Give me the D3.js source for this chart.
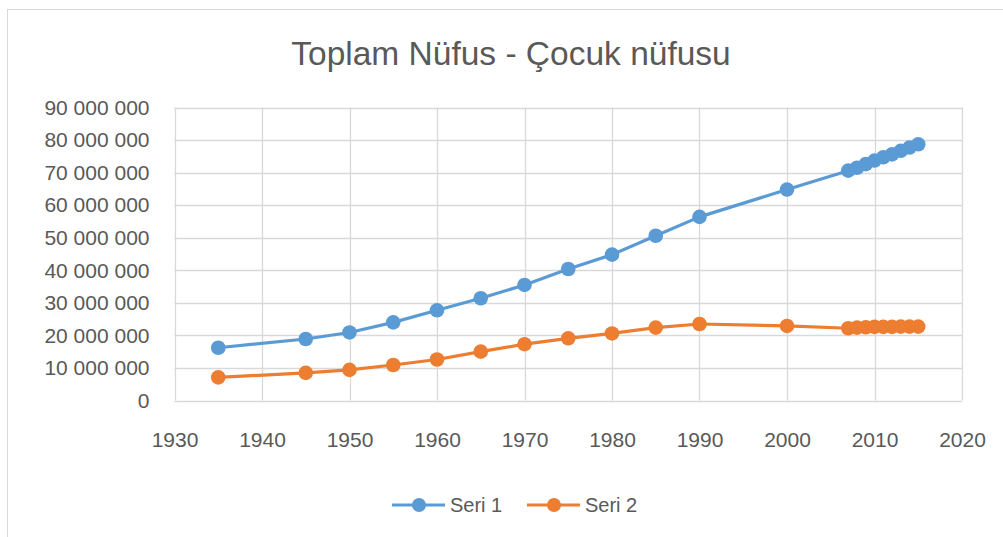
<!DOCTYPE html>
<html lang="tr">
<head>
    <meta charset="UTF-8">
    <title>Toplam Nüfus - Çocuk nüfusu</title>
    <script src="https://d3js.org/d3.v7.min.js"></script>
    <style>
        body {
            margin: 0;
            background: #fff;
            font-family: "Liberation Sans", Arial, sans-serif;
        }
        text { fill: #595959; }
    </style>
</head>
<body>
    <svg id="chart"></svg>

    <script>
        const width = 1003, height = 537;

        // data
        const years  = [1935, 1945, 1950, 1955, 1960, 1965, 1970, 1975, 1980, 1985, 1990, 2000,
                        2007, 2008, 2009, 2010, 2011, 2012, 2013, 2014, 2015];
        const seri1  = [16.2, 18.9, 20.9, 24.0, 27.7, 31.4, 35.5, 40.4, 44.8, 50.6, 56.4, 64.8,
                        70.6, 71.5, 72.6, 73.7, 74.7, 75.6, 76.7, 77.7, 78.7].map(v => v * 1e6);
        const seri2  = [7.1, 8.5, 9.4, 10.9, 12.6, 15.0, 17.3, 19.1, 20.6, 22.4, 23.5, 22.9,
                        22.2, 22.4, 22.5, 22.6, 22.6, 22.6, 22.7, 22.7, 22.7].map(v => v * 1e6);
        const seriesNames = ["Seri 1", "Seri 2"];
        const colors = ["#5B9BD5", "#ED7D31"];
        const xTicks = d3.range(1930, 2021, 10);
        const yTicks = d3.range(0, 90000001, 10000000);

        const svg = d3.select("#chart").attr("width", width).attr("height", height);

        // chart frame
        svg.append("rect")
            .attr("x", 7.5).attr("y", 9.5)
            .attr("width", 1010).attr("height", 600)
            .attr("fill", "none").attr("stroke", "#d9d9d9");

        const x = d3.scaleLinear().domain([1930, 2020]).range([174.5, 962]);
        const y = d3.scaleLinear().domain([0, 90000000]).range([400.5, 107.5]);

        const fmt = d3.formatLocale({ thousands: " ", grouping: [3], decimal: ",", currency: ["", ""] }).format(",");

        // gridlines
        svg.append("g").selectAll("line").data(yTicks).join("line")
            .attr("x1", x(1930)).attr("x2", x(2020))
            .attr("y1", d => Math.round(y(d)) + 0.5).attr("y2", d => Math.round(y(d)) + 0.5)
            .attr("stroke", "#d9d9d9").attr("stroke-width", 1.3);
        svg.append("g").selectAll("line").data(xTicks).join("line")
            .attr("x1", d => Math.round(x(d)) + 0.5).attr("x2", d => Math.round(x(d)) + 0.5)
            .attr("y1", y(0)).attr("y2", y(90000000))
            .attr("stroke", "#d9d9d9").attr("stroke-width", 1.3);

        // axes labels
        const yAxis = d3.axisLeft(y).tickValues(yTicks).tickFormat(fmt).tickSize(0).tickPadding(25);
        svg.append("g").attr("transform", `translate(${x(1930)},0)`).call(yAxis)
            .call(g => g.select(".domain").remove())
            .selectAll("text").attr("font-size", 21).attr("font-family", "Liberation Sans, Arial, sans-serif").attr("fill", "#595959");

        const xAxis = d3.axisBottom(x).tickValues(xTicks).tickFormat(d3.format("d")).tickSize(0).tickPadding(32);
        svg.append("g").attr("transform", `translate(0,${y(0)})`).call(xAxis)
            .call(g => g.select(".domain").remove())
            .selectAll("text").attr("font-size", 21).attr("font-family", "Liberation Sans, Arial, sans-serif").attr("fill", "#595959");

        // series
        [seri1, seri2].forEach((vals, i) => {
            const pts = years.map((yr, j) => [yr, vals[j]]);
            svg.append("path").datum(pts)
                .attr("fill", "none").attr("stroke", colors[i]).attr("stroke-width", 3.2)
                .attr("stroke-linejoin", "round")
                .attr("d", d3.line().x(d => x(d[0])).y(d => y(d[1])));
            svg.append("g").selectAll("circle").data(pts).join("circle")
                .attr("cx", d => x(d[0])).attr("cy", d => y(d[1]))
                .attr("r", 7.3).attr("fill", colors[i]);
        });

        // title
        svg.append("text")
            .attr("x", 511).attr("y", 65)
            .attr("text-anchor", "middle")
            .attr("font-size", 33.5)
            .text("Toplam Nüfus - Çocuk nüfusu");

        // legend
        const legendX = [392, 527];
        seriesNames.forEach((name, i) => {
            const g = svg.append("g").attr("transform", `translate(${legendX[i]},505)`);
            g.append("line").attr("x1", 0).attr("x2", 53).attr("y1", 0).attr("y2", 0)
                .attr("stroke", colors[i]).attr("stroke-width", 3.2);
            g.append("circle").attr("cx", 27).attr("cy", 0).attr("r", 7).attr("fill", colors[i]);
            g.append("text").attr("x", 58).attr("y", 0).attr("dy", "0.35em")
                .attr("font-size", 20).text(name);
        });
    </script>
</body>
</html>
